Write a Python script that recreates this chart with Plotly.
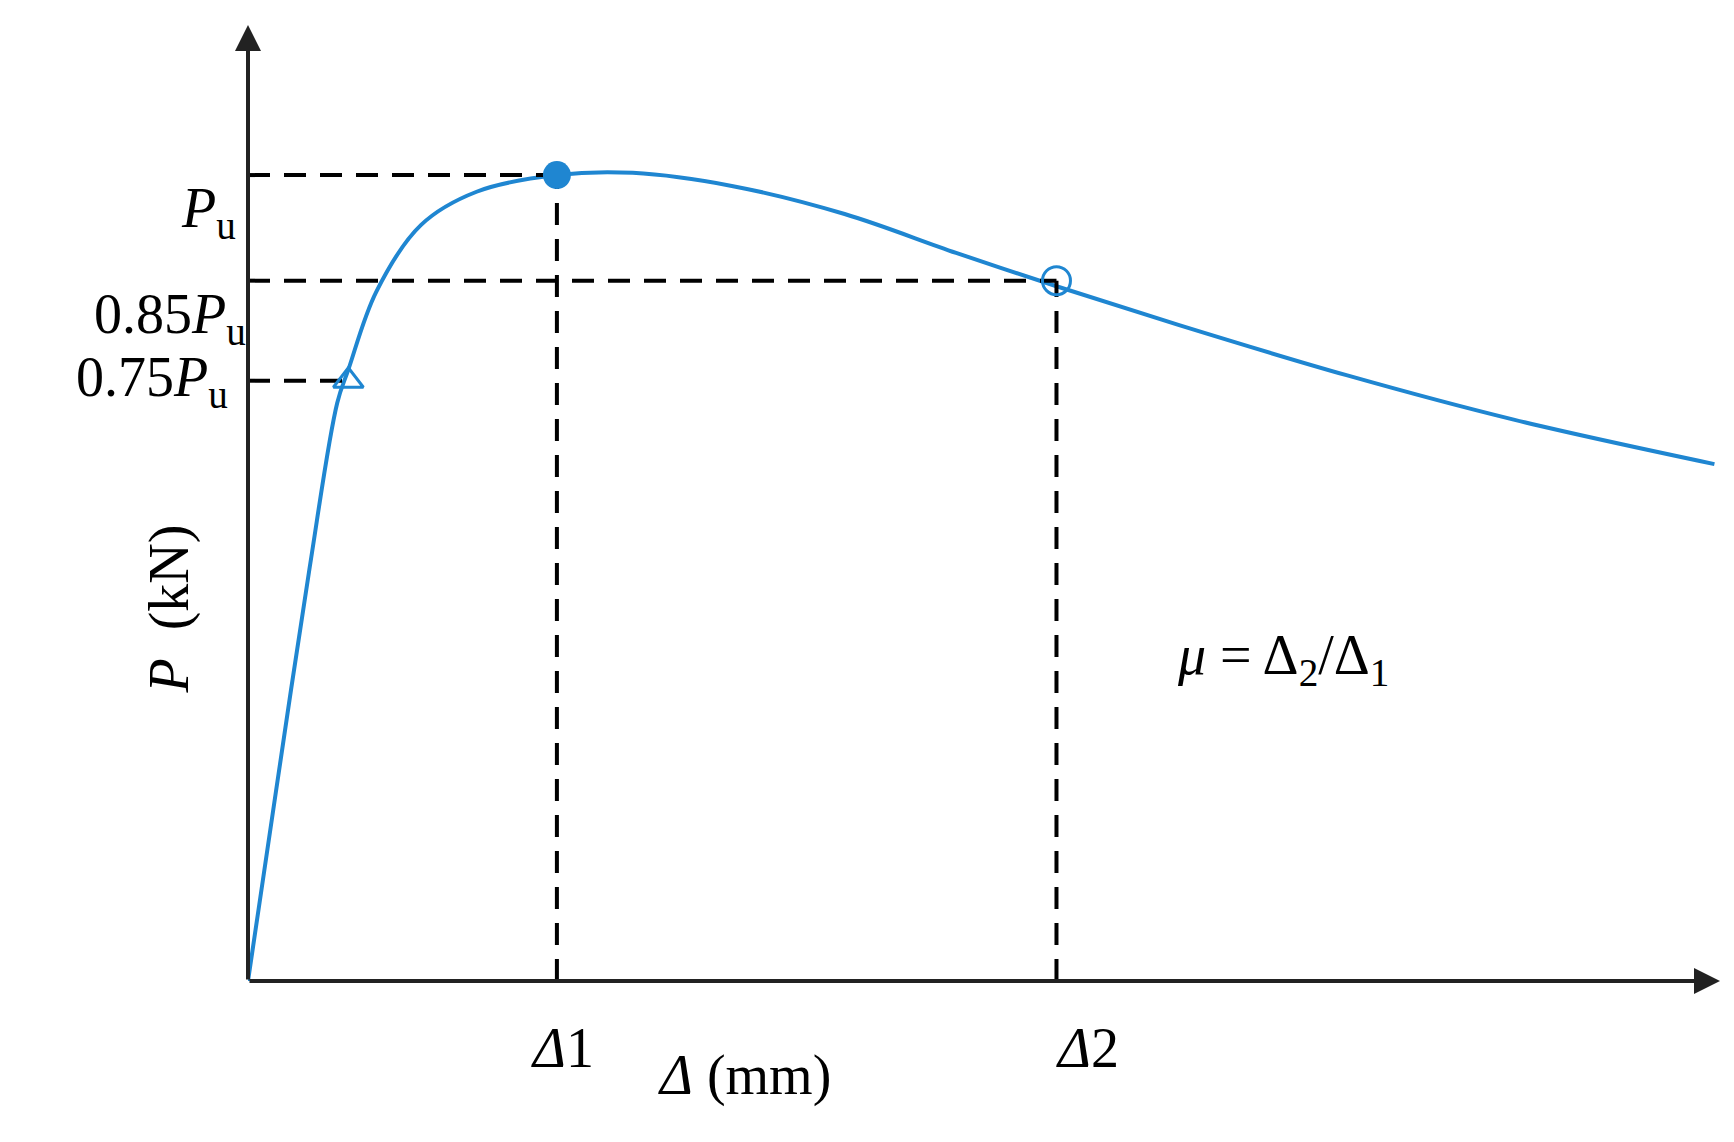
import plotly.graph_objects as go

# curve (displacement, load) in chart units
disp = [0, 25, 55, 80, 90, 115, 155, 205, 277, 345, 435, 535, 635, 725, 835, 985, 1135, 1315]
load = [0, 170, 370, 520, 550, 620, 680, 710, 725, 727, 715, 690, 655, 625, 590, 545, 505, 465]
d1, d2 = 277, 725
pu, p85, p75 = 725, 630, 540
d75 = 90
XMAX, YMAX = 1320, 860

FONT = "Liberation Serif"
BLUE = "#1f86d1"
fig = go.Figure()
fig.add_trace(go.Scatter(x=disp, y=load, mode="lines", line=dict(color=BLUE, width=4, shape="spline"), showlegend=False))
for xs, ys in [([0, d1], [pu, pu]), ([d1, d1], [0, pu]), ([0, d2], [p85, p85]), ([d2, d2], [0, p85]), ([0, d75], [p75, p75])]:
    fig.add_trace(go.Scatter(x=xs, y=ys, mode="lines", line=dict(color="black", width=4, dash="22px,14px"), showlegend=False))
fig.add_trace(go.Scatter(x=[d1], y=[pu], mode="markers", marker=dict(color=BLUE, size=28, symbol="circle"), showlegend=False))
fig.add_trace(go.Scatter(x=[d2], y=[p85], mode="markers", marker=dict(color="rgba(0,0,0,0)", size=28, symbol="circle", line=dict(color=BLUE, width=3)), showlegend=False))
fig.add_trace(go.Scatter(x=[d75], y=[p75], mode="markers", marker=dict(color="rgba(0,0,0,0)", size=26, symbol="triangle-up", line=dict(color=BLUE, width=3)), showlegend=False))

f = dict(family=FONT, size=56, color="black")
ann = [
    dict(x=0, y=pu, text="<i>P</i><sub>u</sub>", xanchor="right", xshift=-10),
    dict(x=0, y=p85, text="0.85<i>P</i><sub>u</sub>", xanchor="right", xshift=0),
    dict(x=0, y=p75, text="0.75<i>P</i><sub>u</sub>", xanchor="right", xshift=-18),
    dict(x=d1 - 25, y=-90, text="<i>Δ</i>1"),
    dict(x=d2 + 28, y=-90, text="<i>Δ</i>2"),
    dict(x=445, y=-115, text="<i>Δ</i> (mm)"),
    dict(x=1025, y=290, text="<i>μ</i> = Δ<sub>2</sub>/Δ<sub>1</sub>"),
    dict(x=-100, y=335, text="<i>P</i>  (kN)", textangle=-90),
]
for a in ann:
    a["x"] = a["x"] / XMAX
    a["y"] = a["y"] / YMAX
    fig.add_annotation(showarrow=False, font=f, xref="paper", yref="paper", **a)
fig.add_annotation(x=XMAX, y=0, ax=0, ay=0, xref="x", yref="y", axref="x", ayref="y", showarrow=True, arrowhead=2, arrowsize=1.3, arrowwidth=4, arrowcolor="#222", text="")
fig.add_annotation(x=0, y=YMAX, ax=0, ay=0, xref="x", yref="y", axref="x", ayref="y", showarrow=True, arrowhead=2, arrowsize=1.3, arrowwidth=4, arrowcolor="#222", text="")

fig.update_xaxes(range=[0, XMAX], visible=False)
fig.update_yaxes(range=[0, YMAX], visible=False)
fig.update_layout(width=1734, height=1142, margin=dict(l=240, r=22, t=17, b=169),
                  plot_bgcolor="white", paper_bgcolor="white")
fig.write_html("out.html")
